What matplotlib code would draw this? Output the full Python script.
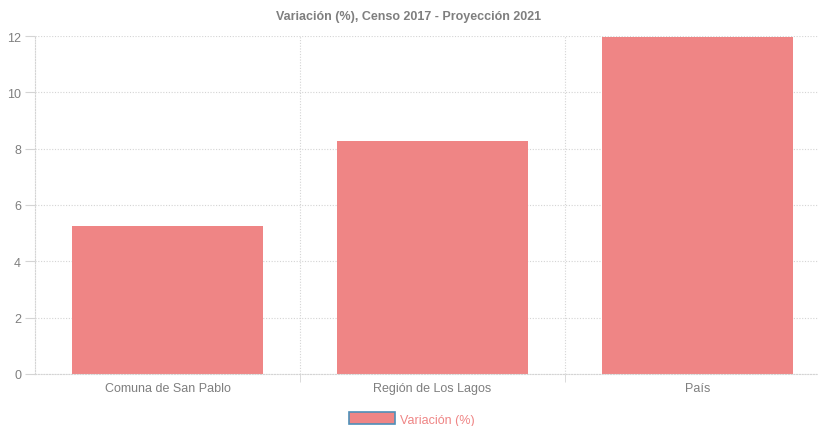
import matplotlib
matplotlib.use("Agg")
import matplotlib.pyplot as plt
from matplotlib.patches import Patch

plt.rcParams["font.family"] = ["Liberation Sans", "DejaVu Sans"]

categories = ["Comuna de San Pablo", "Región de Los Lagos", "País"]
values = [5.25, 8.27, 11.95]
yticks = [0, 2, 4, 6, 8, 10, 12]
title = "Variación (%), Censo 2017 - Proyección 2021"
series_label = "Variación (%)"

bar_color = "#EF8585"
grid_color = "#d4d4d4"
text_color = "#7f7f7f"

fig = plt.figure(figsize=(8.18, 4.27), dpi=100)
ax = fig.add_axes([35/818, 1-375/427, 1-35/818, (375-37)/427])

x = list(range(len(categories)))
ax.bar(x, values, width=0.72, color=bar_color, zorder=2)

ax.set_xlim(-0.5, -0.5 + 783/265)
ax.set_ylim(0, 12)
ax.set_yticks(yticks)
ax.set_yticklabels([str(t) for t in yticks])
ax.set_xticks(x)
ax.set_xticklabels(categories)

ax.set_xticks([0.5, 1.5], minor=True)
ax.grid(axis="y", which="major", color=grid_color, linestyle=(0, (1, 1.5)), linewidth=0.8, zorder=0)
ax.grid(axis="x", which="minor", color=grid_color, linestyle=(0, (1, 1.5)), linewidth=0.8, zorder=0)

for side in ["top", "right"]:
    ax.spines[side].set_visible(False)
for side in ["left", "bottom"]:
    ax.spines[side].set_color(grid_color)
    ax.spines[side].set_linestyle((0, (1, 1.5)))
    ax.spines[side].set_linewidth(0.8)

ax.tick_params(axis="y", which="major", length=7, color=grid_color, labelcolor=text_color, labelsize=9, pad=3)
ax.tick_params(axis="x", which="major", length=0, labelcolor=text_color, labelsize=9, pad=6)
ax.tick_params(axis="x", which="minor", length=6, color=grid_color)

fig.text(0.5, 1-17/427, title, ha="center", va="center", fontsize=9, color=text_color, fontweight="bold")

handle = Patch(facecolor=bar_color, edgecolor="#4f8fb8", linewidth=1.2)
fig.legend([handle], [series_label], loc="center", bbox_to_anchor=(412/818, 1-420/427),
           frameon=False, fontsize=9, labelcolor=bar_color, handlelength=3.7, handleheight=1.1,
           handletextpad=0.4, borderpad=0)

fig.savefig("out.png", dpi=100)
